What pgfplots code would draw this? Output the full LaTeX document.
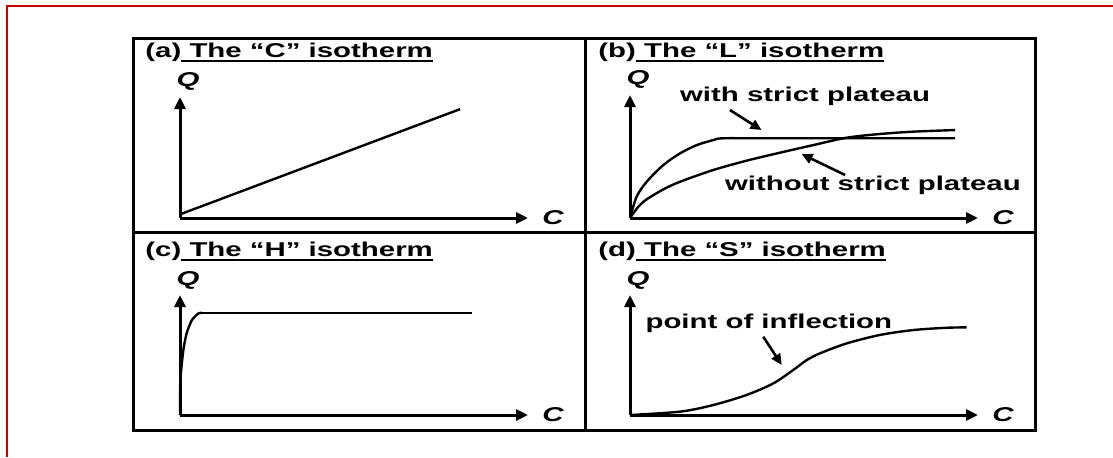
\documentclass[border=0pt]{standalone}
\usepackage{fontspec}
\setmainfont{Liberation Sans}[FakeStretch=1.47]
\usepackage{pgfplots}
\pgfplotsset{compat=1.18}
\usetikzlibrary{arrows.meta}
\definecolor{frame}{RGB}{200,0,0}
\newcommand\lab{\fontsize{10pt}{11pt}\selectfont\bfseries}
\newcommand\ul[1]{\setbox0\hbox{#1}\rlap{\rule[-2.6pt]{\wd0}{0.9pt}}\box0}
\tikzset{
  note/.style={line width=1.3pt, -{Triangle[length=5.5pt,width=5pt]}},
  curve/.style={black, line width=1.2pt, mark=none},
}
\pgfplotsset{
  iso/.style={
    scale only axis, width=174pt, anchor=south west,
    axis lines*=left, xmin=0, xmax=1, ymin=0, ymax=1,
    xtick=\empty, ytick=\empty, clip=false,
    axis line style={line width=1.5pt, -{Triangle[length=6pt,width=5.5pt]}},
    extra description/.code={
      \node[font=\lab\itshape] at (axis description cs:0.023,1.125) {Q};
      \node[font=\lab\itshape] at (axis description cs:1.072,0) {C};
    },
  },
}
\begin{document}
\begin{tikzpicture}
\useasboundingbox (0pt,0pt) rectangle (556.5pt,228.5pt);
% frames
\draw[frame, line width=1.2pt] (3.5pt,0pt) -- (3.5pt,225.5pt) -- (556.5pt,225.5pt);
\draw[line width=1.5pt] (66.5pt,13.5pt) rectangle (517.5pt,209.5pt);
\draw[line width=1.5pt] (292.5pt,13.5pt) -- (292.5pt,209.5pt) (66.5pt,112.5pt) -- (517.5pt,112.5pt);

% titles
\node[font=\lab, anchor=base west, inner sep=0pt] at (72.5pt,200pt) {(a)\ul{ The “C” isotherm}};
\node[font=\lab, anchor=base west, inner sep=0pt] at (299pt,200pt) {(b)\ul{ The “L” isotherm}};
\node[font=\lab, anchor=base west, inner sep=0pt] at (72.5pt,100.5pt) {(c)\ul{ The “H” isotherm}};
\node[font=\lab, anchor=base west, inner sep=0pt] at (299pt,100.5pt) {(d)\ul{ The “S” isotherm}};

% (a) C isotherm
\begin{axis}[iso, at={(90pt,119.5pt)}, height=60.5pt]
\addplot[curve] coordinates {(0,0.03) (0.805,0.90)};
\end{axis}

% (b) L isotherm
\begin{axis}[iso, at={(315pt,119.5pt)}, height=61.5pt]
\addplot[curve, smooth, tension=0.5] coordinates {
 (0,0) (0.019,0.173) (0.048,0.295) (0.096,0.431) (0.144,0.526)
 (0.192,0.593) (0.24,0.634) (0.268,0.648) (0.40,0.648) (0.934,0.648)};
\addplot[curve, smooth, tension=0.5] coordinates {
 (0,0) (0.024,0.092) (0.048,0.152) (0.096,0.233) (0.144,0.295)
 (0.239,0.39) (0.335,0.466) (0.431,0.531) (0.527,0.593) (0.623,0.653)
 (0.718,0.683) (0.814,0.702) (0.934,0.715)};
\node[font=\lab] at (axis cs:0.503,0.99) {with strict plateau};
\node[font=\lab] at (axis cs:0.698,0.268) {without strict plateau};
\draw[note] (axis cs:0.287,0.878) -- (axis cs:0.378,0.715);
\draw[note] (axis cs:0.618,0.35) -- (axis cs:0.493,0.52);
\end{axis}

% (c) H isotherm
\begin{axis}[iso, at={(90pt,21pt)}, height=60pt]
\addplot[curve, smooth, tension=0.4] coordinates {
 (0,0) (0.001,0.29) (0.0096,0.54) (0.019,0.68) (0.034,0.79)
 (0.053,0.847) (0.063,0.85)};
\addplot[curve] coordinates {(0.063,0.85) (0.839,0.85)};
\end{axis}

% (d) S isotherm
\begin{axis}[iso, at={(315pt,21pt)}, height=60pt]
\addplot[curve, smooth, tension=0.5] coordinates {
 (0,0) (0.144,0.028) (0.239,0.083) (0.335,0.167) (0.412,0.264)
 (0.469,0.375) (0.508,0.458) (0.546,0.514) (0.623,0.597) (0.718,0.667)
 (0.814,0.708) (0.91,0.727) (0.967,0.73)};
\node[font=\lab] at (axis cs:0.399,0.767) {point of inflection};
\draw[note] (axis cs:0.383,0.6525) -- (axis cs:0.436,0.417);
\end{axis}
\end{tikzpicture}
\end{document}
